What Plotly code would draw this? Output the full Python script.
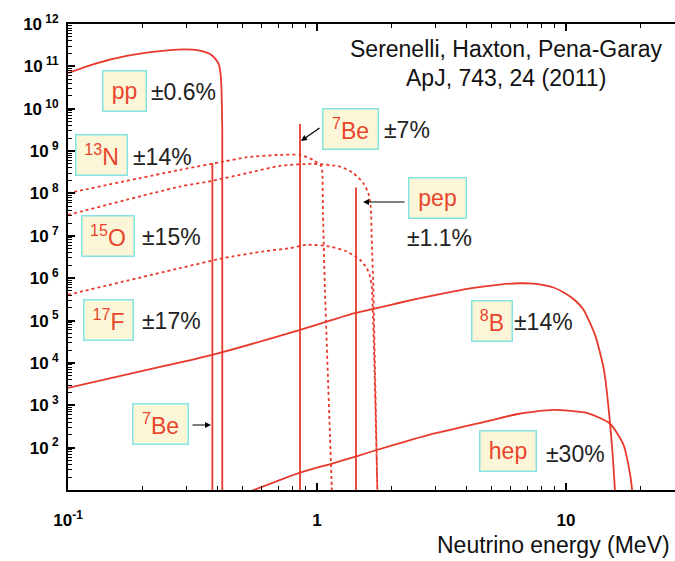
import plotly.graph_objects as go

# ---------------- data ----------------
# continuum spectra: energy (MeV) and flux
pp_E = [0.1, 0.126, 0.172, 0.234, 0.290, 0.339, 0.377, 0.402, 0.411, 0.4165, 0.4165]
pp_flux = [6.92e10, 1.12e11, 1.76e11, 2.29e11, 2.51e11, 2.34e11, 1.86e11, 1.175e11, 5.75e10, 3.16e9, 5.0]

n13_E = [0.1, 0.282, 0.421, 0.523, 0.710, 0.855, 0.966, 1.028, 1.044, 1.057, 1.076, 1.146, 1.15]
n13_flux = [1.02e8, 3.61e8, 5.65e8, 7.18e8, 8.13e8, 8.13e8, 6.17e8, 4.73e8, 4.32e8, 3.16e7, 5.37e5, 12.0, 5.0]

o15_E = [0.1, 0.282, 0.383, 0.523, 0.710, 0.966, 1.236, 1.40, 1.535, 1.607, 1.644, 1.659, 1.683, 1.746, 1.75]
o15_flux = [3.13e7, 1.456e8, 2.01e8, 3.01e8, 4.48e8, 4.99e8, 4.32e8, 3.01e8, 1.75e8, 1.02e8, 4.90e7, 8.05e6, 6.31e5, 12.0, 5.0]

f17_E = [0.1, 0.282, 0.421, 0.608, 0.779, 0.909, 1.127, 1.315, 1.488, 1.584, 1.633, 1.659, 1.746, 1.75]
f17_flux = [4.06e5, 1.73e6, 2.98e6, 4.27e6, 5.13e6, 6.14e6, 5.60e6, 4.27e6, 2.72e6, 1.73e6, 1.10e6, 6.31e5, 12.0, 5.0]

b8_E = [0.1, 0.249, 0.38, 0.855, 1.16, 1.43, 2.15, 2.6, 3.42, 4.11, 5.43, 6.53, 7.39, 8.9,
        10.07, 11.0, 11.75, 13.1, 14.2, 15.0, 15.7, 15.8]
b8_flux = [2.57e3, 8.71e3, 1.55e4, 6.03e4, 1.05e5, 1.51e5, 2.63e5, 3.39e5, 4.68e5, 5.75e5, 7.08e5, 7.59e5,
           7.41e5, 6.03e5, 4.17e5, 2.82e5, 1.82e5, 4.47e4, 6.92e3, 417, 11.7, 5.0]

hep_E = [0.52, 0.855, 1.16, 1.43, 1.75, 2.77, 4.8, 6.5, 8.9, 12.1, 15.0, 17.0, 17.8, 18.4, 18.5]
hep_flux = [8.5, 25.7, 42.7, 61.7, 89.1, 195, 417, 631, 776, 661, 372, 120, 39.8, 11.2, 5.0]

# monochromatic lines: energy (MeV) and line flux
line_names = ["7Be (0.38)", "7Be (0.86)", "pep"]
line_E = [0.38, 0.855, 1.434]
line_flux = [5.19e8, 4.37e9, 1.38e8]
line_floor = 5.0

# axis ticks
x_tickvals = [0.1, 1, 10]
x_ticktext = ["<b>10</b><sup><b>-1</b></sup>", "<b>1</b>", "<b>10</b>"]
x_minor = [0.2, 0.3, 0.4, 0.5, 0.6, 0.7, 0.8, 0.9, 2, 3, 4, 5, 6, 7, 8, 9, 20]
y_exps = list(range(2, 13))
y_tickvals = [10.0 ** k for k in y_exps]
y_ticktext = ["<b>10</b><sup><b> %d</b></sup>" % k for k in y_exps]
y_minor = [m * 10.0 ** k for k in range(1, 12) for m in range(2, 10)]

# ---------------- style ----------------
FONT = "Liberation Sans, Arial, Helvetica, sans-serif"
RED = "#e8392c"
TXT_RED = "#e8452d"
CREAM = "#fcf6d8"
CYAN = "#84e4e2"
DARK = "#222222"
W, H = 675, 561
ML, MR, MT, MB = 68, 0, 24, 71


def P(px, py):
    """pixel -> paper coordinates"""
    return (px - ML) / (W - ML - MR), (H - MB - py) / (H - MT - MB)


fig = go.Figure()

solid = dict(color=RED, width=1.8)
dotted = dict(color=RED, width=1.8, dash="3px,3px")

for E, F, ln in [(pp_E, pp_flux, solid), (b8_E, b8_flux, solid), (hep_E, hep_flux, solid),
                 (n13_E, n13_flux, dotted), (o15_E, o15_flux, dotted), (f17_E, f17_flux, dotted)]:
    fig.add_trace(go.Scatter(x=E, y=F, mode="lines", line=dict(shape="spline", smoothing=0.6, **ln),
                             hoverinfo="skip"))

for name, e, f in zip(line_names, line_E, line_flux):
    fig.add_trace(go.Scatter(x=[e, e], y=[line_floor, f], mode="lines", line=solid, name=name,
                             hoverinfo="skip"))

ann = []


def box(text, cx, cy, w):
    x, y = P(cx, cy)
    ann.append(dict(text=text, x=x, y=y, xref="paper", yref="paper", showarrow=False,
                    xanchor="center", yanchor="middle", width=w, height=37,
                    font=dict(family=FONT, size=23, color=TXT_RED),
                    bgcolor=CREAM, bordercolor=CYAN, borderwidth=1.5, borderpad=1))


def label(text, lx, cy, size=23, anchor="left", color=DARK):
    x, y = P(lx, cy)
    ann.append(dict(text=text, x=x, y=y, xref="paper", yref="paper", showarrow=False,
                    xanchor=anchor, yanchor="middle", font=dict(family=FONT, size=size, color=color)))


def arrow(tx, ty, hx, hy):
    x, y = P(hx, hy)
    ann.append(dict(text="", x=x, y=y, xref="paper", yref="paper", showarrow=True,
                    ax=tx - hx, ay=ty - hy, arrowhead=2, arrowsize=1, arrowwidth=1.2,
                    arrowcolor="black", standoff=0, startstandoff=0))


box("pp", 124.5, 91, 40)
label("±0.6%", 149, 92)
box("<sup>13</sup>N", 101.5, 154.5, 48)
label("±14%", 131, 157)
box("<sup>15</sup>O", 108, 235.5, 49)
label("±15%", 140, 237)
box("<sup>17</sup>F", 108.5, 320, 46)
label("±17%", 140, 321)
box("<sup>7</sup>Be", 160.5, 423.5, 52)
arrow(191, 425, 211, 425)
box("<sup>7</sup>Be", 350, 128.5, 52)
label("±7%", 382, 130)
arrow(321, 127, 301, 141)
box("pep", 437.5, 198.5, 54)
label("±1.1%", 405, 238)
arrow(406, 202, 363, 202)
box("<sup>8</sup>B", 492, 320.5, 37)
label("±14%", 512, 322)
box("hep", 508, 451, 53)
label("±30%", 544, 454)

label("Serenelli, Haxton, Pena-Garay", 506, 49, anchor="center", color="#111111")
label("ApJ, 743, 24 (2011)", 506, 78, anchor="center", color="#111111")
label("Neutrino energy (MeV)", 672, 545, anchor="right", color="#111111")

tickfont = dict(family=FONT, size=17, color="black")

fig.update_layout(
    width=W, height=H,
    margin=dict(l=ML, r=MR, t=MT, b=MB, pad=0),
    paper_bgcolor="white", plot_bgcolor="white",
    showlegend=False,
    annotations=ann,
    xaxis=dict(type="log", range=[-1, 1.4378], showgrid=False, zeroline=False,
               showline=True, linecolor="black", linewidth=2, mirror="ticks",
               ticks="inside", ticklen=7, tickwidth=1.5, tickcolor="black",
               tickmode="array", tickvals=x_tickvals, ticktext=x_ticktext,
               tickfont=tickfont, ticklabelstandoff=14,
               minor=dict(ticks="inside", ticklen=4, tickwidth=1.2, tickcolor="black",
                          tickmode="array", tickvals=x_minor, showgrid=False)),
    yaxis=dict(type="log", range=[1, 12], showgrid=False, zeroline=False,
               showline=True, linecolor="black", linewidth=2, mirror=False,
               ticks="inside", ticklen=7, tickwidth=1.5, tickcolor="black",
               tickmode="array", tickvals=y_tickvals, ticktext=y_ticktext,
               tickfont=tickfont, ticklabelstandoff=4,
               minor=dict(ticks="inside", ticklen=4, tickwidth=1.0, tickcolor="black",
                          tickmode="array", tickvals=y_minor, showgrid=False)),
)

fig.write_html("out.html", config={"displayModeBar": False},
               post_script="document.body.style.margin='0px';document.body.style.overflow='hidden';")
